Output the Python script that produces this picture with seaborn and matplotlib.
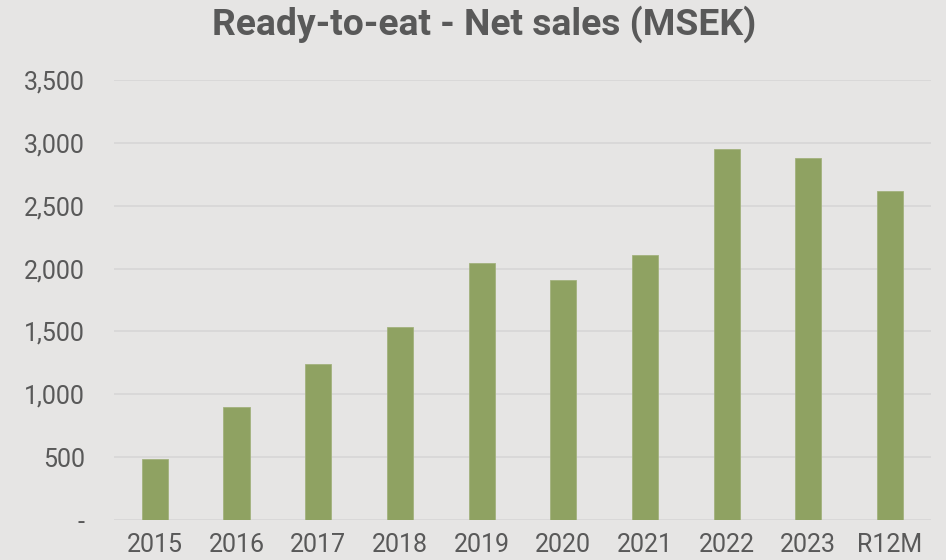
import matplotlib
matplotlib.use('Agg')
import matplotlib.pyplot as plt
import seaborn as sns
import pandas as pd

# Data
years = ["2015", "2016", "2017", "2018", "2019", "2020", "2021", "2022", "2023", "R12M"]
net_sales = [485, 898, 1240, 1534, 2043, 1908, 2107, 2949, 2878, 2615]
y_ticks = [0, 500, 1000, 1500, 2000, 2500, 3000, 3500]
y_tick_labels = ["-", "500", "1,000", "1,500", "2,000", "2,500", "3,000", "3,500"]

BG = "#e6e5e4"
BAR = "#8fa262"
GRID = "#d8d7d7"
TEXT = "#595959"

sns.set_theme(style="white")
plt.rcParams['font.family'] = ['Roboto', 'DejaVu Sans']

df = pd.DataFrame({"year": years, "sales": net_sales})

fig = plt.figure(figsize=(9.46, 5.6), dpi=100, facecolor=BG)
ax = fig.add_axes([0.1205, 0.0714, 0.8635, 0.7857])
ax.set_facecolor(BG)

sns.barplot(data=df, x="year", y="sales", color=BAR, width=0.32,
            saturation=1, edgecolor="#a3b27e", linewidth=0.6, ax=ax, zorder=3)

ax.set_ylim(0, 3500)
ax.set_yticks(y_ticks)
ax.set_yticklabels(y_tick_labels)
ax.yaxis.grid(True, color=GRID, linewidth=1.3, zorder=0)
ax.set_axisbelow(True)
for s in ax.spines.values():
    s.set_visible(False)
ax.tick_params(axis='y', length=0, pad=21, labelsize=18, labelcolor=TEXT)
ax.tick_params(axis='x', length=0, pad=9, labelsize=18, labelcolor=TEXT)
ax.set_xlabel("")
ax.set_ylabel("")

fig.suptitle("Ready-to-eat - Net sales (MSEK)", x=0.512, y=0.99, fontsize=26.8,
             fontweight='bold', color=TEXT)

fig.savefig("out.png", dpi=100, facecolor=BG)
